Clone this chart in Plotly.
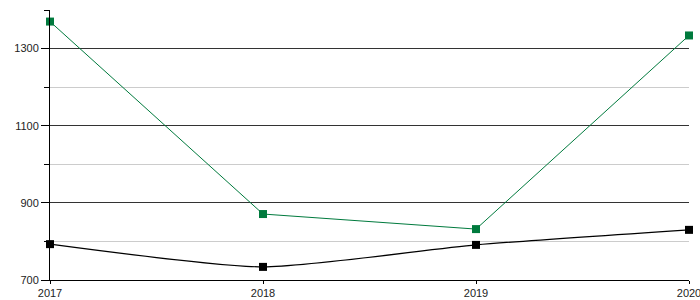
import plotly.graph_objects as go

years = [2017, 2018, 2019, 2020]
green_vals = [1370, 871, 832, 1334]
black_vals = [793, 734, 791, 830]
major_ticks = [700, 900, 1100, 1300]
minor_ticks = [800, 1000, 1200, 1400]

fig = go.Figure()
fig.add_trace(go.Scatter(
    x=years, y=black_vals, mode="lines+markers",
    line=dict(color="#000000", width=1.2, shape="spline", smoothing=0.6),
    marker=dict(symbol="square", size=8, color="#000000"),
    cliponaxis=False, showlegend=False))
fig.add_trace(go.Scatter(
    x=years, y=green_vals, mode="lines+markers",
    line=dict(color="#007A3D", width=1),
    marker=dict(symbol="square", size=8, color="#007A3D"),
    cliponaxis=False, showlegend=False))

fig.update_layout(
    width=700, height=300,
    margin=dict(l=50, r=11, t=10, b=20),
    paper_bgcolor="white", plot_bgcolor="white",
    font=dict(family="Liberation Sans, Arial, sans-serif", size=11, color="#222222"),
    xaxis=dict(
        range=[2017, 2020], tickvals=years, ticktext=[str(y) for y in years],
        showgrid=False, zeroline=False, showline=True, linecolor="#000000", linewidth=1,
        ticks="outside", ticklen=3, tickcolor="#000000",
        automargin=False, ticklabeloverflow="allow",
    ),
    yaxis=dict(
        range=[700, 1400], tickvals=major_ticks,
        showgrid=True, gridcolor="#333333", gridwidth=1,
        zeroline=False, showline=True, linecolor="#000000", linewidth=1,
        ticks="outside", ticklen=8, tickcolor="#000000", automargin=False,
        minor=dict(tickvals=minor_ticks, showgrid=True, gridcolor="#cccccc",
                   ticks="outside", ticklen=5, tickcolor="#000000"),
    ),
)
fig.write_html("out.html")
